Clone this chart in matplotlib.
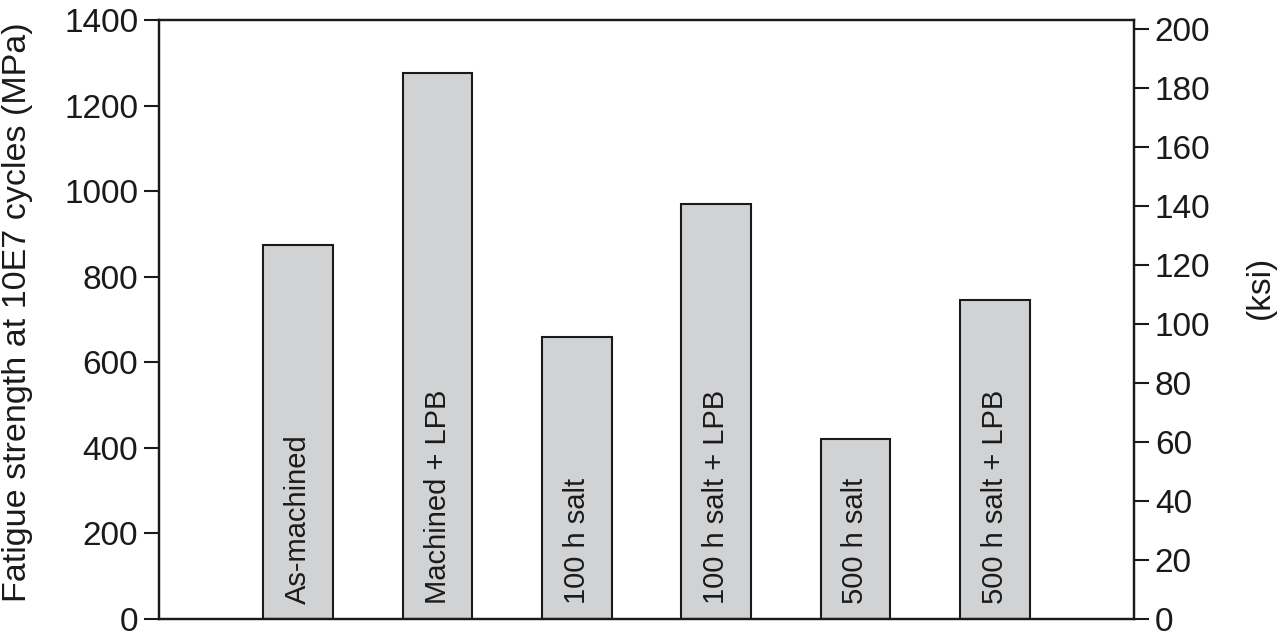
import matplotlib.pyplot as plt
import numpy as np

plt.rcParams['font.family'] = ['Liberation Sans', 'DejaVu Sans']

treatments = ['As-machined', 'Machined + LPB', '100 h salt', '100 h salt + LPB',
              '500 h salt', '500 h salt + LPB']
strength_mpa = [875, 1275, 660, 970, 420, 745]
left_ticks = [0, 200, 400, 600, 800, 1000, 1200, 1400]
right_ticks = [0, 20, 40, 60, 80, 100, 120, 140, 160, 180, 200]
MPA_PER_KSI = 6.895

ink = '#1a1a1a'

fig = plt.figure(figsize=(12.79, 6.38), dpi=100)
ax = fig.add_axes([159 / 1279, 19 / 638, (1134 - 159) / 1279, (619 - 20) / 638])

x = np.arange(len(treatments))
ax.bar(x, strength_mpa, width=0.5, color='#d1d2d4', edgecolor=ink,
       linewidth=1.5, zorder=2)

# rotated labels inside the bars
for xi, name in zip(x, treatments):
    ax.annotate(name, (xi, 0), xytext=(0, 10.5), textcoords='offset points',
                rotation=90, ha='center', va='bottom', fontsize=21,
                color=ink, zorder=3)

ax.set_xlim(-1, 6)
ax.set_ylim(0, 1400)
ax.set_xticks([])
ax.set_yticks(left_ticks)
ax.tick_params(axis='y', labelsize=24, length=11, width=1.5, pad=4, colors=ink)
ax.set_ylabel('Fatigue strength at 10E7 cycles (MPa)', fontsize=24.5, color=ink)
ax.yaxis.set_label_coords(-0.129, 0.5125)
for s in ax.spines.values():
    s.set_linewidth(1.6)
    s.set_color(ink)

ax2 = ax.twinx()
ax2.set_ylim(0, 1400 / MPA_PER_KSI)
ax2.set_yticks(right_ticks)
ax2.tick_params(axis='y', labelsize=24, length=11, width=1.5, pad=4, colors=ink)
ax2.set_ylabel('(ksi)', fontsize=24, color=ink)
ax2.yaxis.set_label_coords(1.114, 0.553)
for s in ax2.spines.values():
    s.set_linewidth(1.6)
    s.set_color(ink)

fig.savefig('out.png', dpi=100)
